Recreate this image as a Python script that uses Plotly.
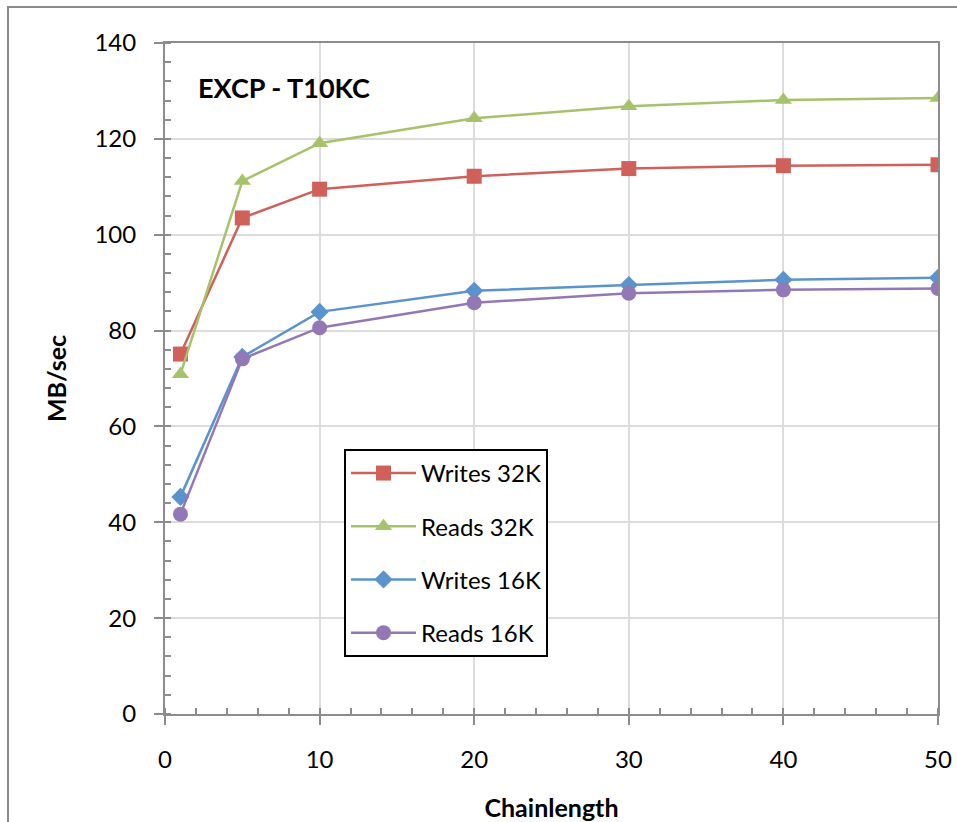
import plotly.graph_objects as go

# Throughput vs. chain length
chainlength = [1, 5, 10, 20, 30, 40, 50]
writes_32k = [75.1, 103.5, 109.5, 112.2, 113.8, 114.4, 114.6]
reads_32k = [70.9, 111.2, 119.1, 124.3, 126.8, 128.1, 128.5]
writes_16k = [45.3, 74.5, 83.9, 88.3, 89.5, 90.6, 91.0]
reads_16k = [41.7, 74.1, 80.6, 85.8, 87.8, 88.5, 88.8]

series = [
    ("Writes 32K", writes_32k, "#D0605A", "square", 15),
    ("Reads 32K", reads_32k, "#A6C26A", "triangle-up", 15),
    ("Writes 16K", writes_16k, "#5B93CE", "diamond", 14),
    ("Reads 16K", reads_16k, "#9378B6", "circle", 15),
]

FONT = "Lato, Carlito, 'Liberation Sans', sans-serif"
AXIS_GREY = "#8c8c8c"

fig = go.Figure()
for i, (name, vals, color, symbol, size) in enumerate(series):
    fig.add_trace(go.Scatter(
        x=chainlength, y=vals, name=name, mode="lines+markers",
        legendgroup=f"g{i}",
        line=dict(color=color, width=2.5),
        marker=dict(symbol=symbol, size=size, color=color),
    ))

fig.update_layout(
    width=957, height=822,
    margin=dict(l=165, r=19, t=43, b=108),
    paper_bgcolor="white", plot_bgcolor="white",
    font=dict(family=FONT, size=24, color="black"),
    showlegend=True,
    legend=dict(
        x=0.2316, y=0.395, xanchor="left", yanchor="top",
        bordercolor="black", borderwidth=2, bgcolor="white",
        font=dict(size=24), tracegroupgap=19,
        itemwidth=65,
    ),
    xaxis=dict(
        range=[0, 50], tickvals=[0, 10, 20, 30, 40, 50],
        automargin=False,
        showgrid=True, gridcolor="#dcdcdc", gridwidth=1.5,
        showline=True, linecolor=AXIS_GREY, linewidth=2, mirror=True,
        ticks="outside", ticklen=9, tickwidth=2, tickcolor=AXIS_GREY,
        ticklabelstandoff=14,
        minor=dict(dtick=2, ticks="inside", ticklen=6, tickwidth=2,
                   tickcolor=AXIS_GREY, showgrid=False),
        zeroline=False,
        title=dict(text="<b>Chainlength</b>", font=dict(size=25), standoff=28),
    ),
    yaxis=dict(
        range=[0, 140], tickvals=[0, 20, 40, 60, 80, 100, 120, 140],
        automargin=False,
        showgrid=True, gridcolor="#dcdcdc", gridwidth=1.5,
        showline=True, linecolor=AXIS_GREY, linewidth=2, mirror=True,
        ticks="outside", ticklen=9, tickwidth=2, tickcolor=AXIS_GREY,
        ticklabelstandoff=13,
        minor=dict(dtick=4, ticks="inside", ticklen=6, tickwidth=2,
                   tickcolor=AXIS_GREY, showgrid=False),
        zeroline=False,
        title=dict(text="<b>MB/sec</b>", font=dict(size=25), standoff=21),
    ),
    annotations=[dict(
        text="<b>EXCP - T10KC</b>", xref="paper", yref="paper",
        x=0.04, y=0.934, xanchor="left", yanchor="middle",
        showarrow=False, font=dict(size=27, color="black"),
    )],
    shapes=[dict(
        type="rect", xref="paper", yref="paper",
        x0=-0.2031, x1=1.2, y0=-0.3, y1=1.0537,
        line=dict(color="#8a8a8a", width=2), layer="below",
    )],
)

fig.write_html("out.html")
